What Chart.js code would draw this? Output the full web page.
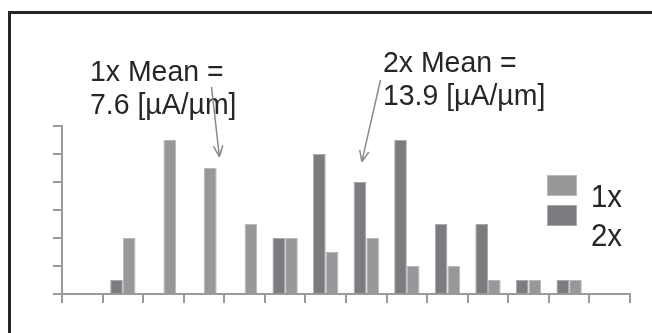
<!DOCTYPE html>
<html>
<head>
<meta charset="utf-8">
<script src="https://cdn.jsdelivr.net/npm/chart.js@4"></script>
<style>
html, body { margin: 0; padding: 0; background: #fff; overflow: hidden; }
#frame { position: absolute; left: 8px; top: 11px; width: 700px; height: 400px;
  border-left: 3px solid #262626; border-top: 3px solid #262626; }
canvas { position: absolute; left: 0; top: 0; }
</style>
</head>
<body>
<div id="frame"></div>
<canvas id="histChart" width="652" height="333"></canvas>
<script>
// bins (tick labels are hidden in the original)
const bins = ["b0","b1","b2","b3","b4","b5","b6","b7","b8","b9","b10","b11","b12","b13"];
const counts1x = [0, 4, 11, 9, 5, 4, 3, 4, 2, 2, 1, 1, 1, 0];
const counts2x = [0, 1, 0, 0, 0, 4, 10, 8, 11, 5, 5, 1, 1, 0];
const yTicksStep = 2;
const yMax = 12;

// mean call-outs: text + arrow tip given in bin index / count units
const meanNotes = [
  { lines: ["1x Mean =", "7.6 [µA/µm]"], tx: 90, ty: 81, tail: [211.5, 87], tip: [3.38, 9.8] },
  { lines: ["2x Mean =", "13.9 [µA/µm]"], tx: 383, ty: 72, tail: [380.5, 80], tip: [6.89, 9.45] }
];

// slightly condensed text like the original
function squeezedText(ctx, t, x, y, sx) {
  ctx.save();
  ctx.translate(x, y);
  ctx.scale(sx, 1);
  ctx.fillText(t, 0, 0);
  ctx.restore();
}

const notesPlugin = {
  id: "notes",
  afterDraw(chart) {
    const ctx = chart.ctx;
    const xs = chart.scales.x, ys = chart.scales.y;
    ctx.save();
    // text
    ctx.fillStyle = "#262626";
    ctx.font = "29px 'Liberation Sans', Arial, sans-serif";
    ctx.textBaseline = "alphabetic";
    meanNotes.forEach(n => {
      n.lines.forEach((t, i) => squeezedText(ctx, t, n.tx, n.ty + i * 33.3, 0.98));
    });
    // arrows
    ctx.strokeStyle = "#8a8a8a";
    ctx.lineWidth = 1.5;
    meanNotes.forEach(n => {
      const px = xs.getPixelForValue(n.tip[0]);
      const py = ys.getPixelForValue(n.tip[1]);
      const ang = Math.atan2(py - n.tail[1], px - n.tail[0]);
      ctx.beginPath();
      ctx.moveTo(n.tail[0], n.tail[1]);
      ctx.lineTo(px, py);
      [0.4, -0.4].forEach(d => {
        ctx.moveTo(px, py);
        ctx.lineTo(px - 12 * Math.cos(ang + d), py - 12 * Math.sin(ang + d));
      });
      ctx.stroke();
    });
    // legend (1x on top)
    const items = chart.data.datasets.slice().reverse();
    ctx.font = "32px 'Liberation Sans', Arial, sans-serif";
    items.forEach((ds, i) => {
      const y0 = 175 + i * 30;
      ctx.fillStyle = ds.backgroundColor;
      ctx.fillRect(547, y0, 30, 21);
      ctx.strokeStyle = ds.borderColor;
      ctx.lineWidth = 1;
      ctx.strokeRect(547.5, y0 + 0.5, 29, 20);
      ctx.fillStyle = "#262626";
      squeezedText(ctx, ds.label, 591, 207 + i * 39, 0.92);
    });
    ctx.restore();
  }
};

new Chart(document.getElementById("histChart"), {
  type: "bar",
  data: {
    labels: bins,
    datasets: [
      { label: "2x", data: counts2x, backgroundColor: "#7b7b80", borderColor: "#a9a9ac", borderWidth: 1 },
      { label: "1x", data: counts1x, backgroundColor: "#98989b", borderColor: "#b8b8ba", borderWidth: 1 }
    ]
  },
  options: {
    responsive: false,
    animation: false,
    devicePixelRatio: 1,
    categoryPercentage: 0.625,
    barPercentage: 1.0,
    layout: { padding: { left: 53, right: 22, top: 126, bottom: 30 } },
    plugins: { legend: { display: false }, tooltip: { enabled: false } },
    scales: {
      x: {
        ticks: { display: false },
        grid: { offset: true, drawOnChartArea: false, drawTicks: true, tickLength: 9, color: "#9a9a9a", lineWidth: 2 },
        border: { color: "#9a9a9a", width: 2 }
      },
      y: {
        min: 0, max: yMax,
        ticks: { display: false, stepSize: yTicksStep },
        grid: { drawOnChartArea: false, drawTicks: true, tickLength: 9, color: "#9a9a9a", lineWidth: 2 },
        border: { color: "#9a9a9a", width: 2 }
      }
    }
  },
  plugins: [notesPlugin]
});
</script>
</body>
</html>
